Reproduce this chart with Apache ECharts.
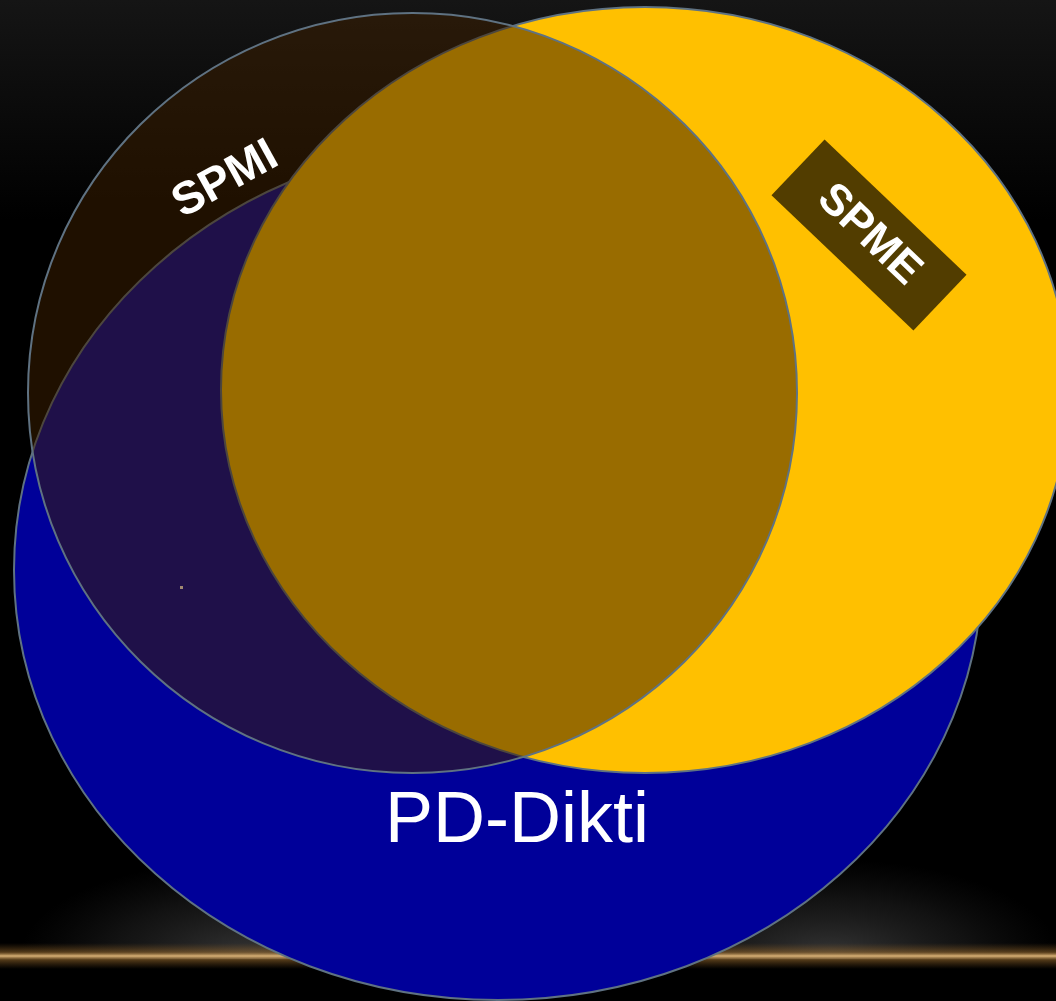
<!DOCTYPE html>
<html>
<head>
<meta charset="utf-8">
<script src="https://cdn.jsdelivr.net/npm/echarts@6/dist/echarts.min.js"></script>
<style>
  html, body { margin: 0; padding: 0; background: #000; }
  #chart { width: 1056px; height: 1001px; }
</style>
</head>
<body>
<div id="chart"></div>
<script>
// ---- Data ----
const sets    = ['PD-Dikti', 'SPME', 'SPMI'];
const centerX = [498, 645, 412.5];
const centerY = [570, 390, 393];
const radiusX = [484, 424, 384.5];
const radiusY = [430, 383, 380];

// ---- Styles / layout (kept apart from the data) ----
const fills = ['#000099', '#FFC000', 'rgba(60,31,0,0.52)'];
const strokeColor = '#5f7282';
const labelStyle = {
  'PD-Dikti': { dx: 19, dy: 252, rotate: 0, size: 72, weight: 'normal', box: null },
  'SPME':     { dx: 224, dy: -155, rotate: -43.6, size: 44, weight: 'bold', box: { w: 196, h: 77, fill: '#523d00' } },
  'SPMI':     { dx: -187, dy: -213, rotate: 29, size: 46, weight: 'bold', box: null }
};

const chart = echarts.init(document.getElementById('chart'), null, { renderer: 'canvas' });

const ellipseData = sets.map((s, i) => [centerX[i], centerY[i], radiusX[i], radiusY[i], i]);

function renderEllipse(params, api) {
  const i = api.value(4);
  const c = api.coord([api.value(0), api.value(1)]);
  const e = api.coord([api.value(0) + api.value(2), api.value(1) + api.value(3)]);
  return {
    type: 'ellipse',
    shape: { cx: c[0], cy: c[1], rx: Math.abs(e[0] - c[0]), ry: Math.abs(e[1] - c[1]) },
    style: { fill: fills[i], stroke: strokeColor, lineWidth: 2 }
  };
}

function renderLabel(params, api) {
  const i = api.value(4);
  const name = sets[i];
  const st = labelStyle[name];
  const p = api.coord([api.value(0) + st.dx, api.value(1) + st.dy]);
  const children = [];
  if (st.box) {
    children.push({
      type: 'rect',
      shape: { x: -st.box.w / 2, y: -st.box.h / 2, width: st.box.w, height: st.box.h },
      style: { fill: st.box.fill }
    });
  }
  children.push({
    type: 'text',
    style: {
      text: name, x: 0, y: 0, fill: '#ffffff',
      fontSize: st.size, fontWeight: st.weight,
      fontFamily: '"Liberation Sans", Arial, sans-serif',
      align: 'center', verticalAlign: 'middle'
    }
  });
  return { type: 'group', x: p[0], y: p[1], rotation: st.rotate * Math.PI / 180, children };
}

function spot(x) {
  return { type: 'circle', x: x, y: 956, scaleY: 0.42, z: 0, silent: true,
    shape: { cx: 0, cy: 0, r: 230 },
    style: { fill: new echarts.graphic.RadialGradient(0.5, 0.5, 0.5, [
      { offset: 0, color: 'rgba(60,60,60,0.9)' },
      { offset: 0.6, color: 'rgba(40,40,40,0.45)' },
      { offset: 1, color: 'rgba(30,30,30,0)' }
    ]) } };
}

const option = {
  backgroundColor: new echarts.graphic.LinearGradient(0, 0, 0, 1, [
    { offset: 0, color: '#151515' },
    { offset: 0.22, color: '#000000' },
    { offset: 1, color: '#000000' }
  ]),
  animation: false,
  grid: { left: 0, right: 0, top: 0, bottom: 0 },
  xAxis: { type: 'value', min: 0, max: 1056, show: false },
  yAxis: { type: 'value', min: 0, max: 1001, inverse: true, show: false },
  graphic: [
    spot(250),
    spot(830),
    { type: 'rect', z: 0, silent: true,
      shape: { x: 0, y: 959, width: 1056, height: 42 },
      style: { fill: '#000' } },
    { type: 'rect', z: 0, silent: true,
      shape: { x: 0, y: 943, width: 1056, height: 26 },
      style: { fill: new echarts.graphic.LinearGradient(0, 0, 0, 1, [
        { offset: 0, color: 'rgba(120,80,30,0)' },
        { offset: 0.35, color: 'rgba(150,105,45,0.55)' },
        { offset: 0.5, color: '#d8b177' },
        { offset: 0.65, color: 'rgba(150,105,45,0.55)' },
        { offset: 1, color: 'rgba(120,80,30,0)' }
      ]) } },
    { type: 'rect', z: 20, silent: true,
      shape: { x: 180, y: 586, width: 3, height: 3 },
      style: { fill: '#a08a72' } }
  ],
  series: [
    {
      type: 'custom', z: 10, silent: true,
      coordinateSystem: 'cartesian2d',
      renderItem: renderEllipse,
      data: ellipseData,
      clip: false
    },
    {
      type: 'custom', z: 11, silent: true,
      coordinateSystem: 'cartesian2d',
      renderItem: renderLabel,
      data: ellipseData,
      clip: false
    }
  ]
};
chart.setOption(option);
</script>
</body>
</html>
